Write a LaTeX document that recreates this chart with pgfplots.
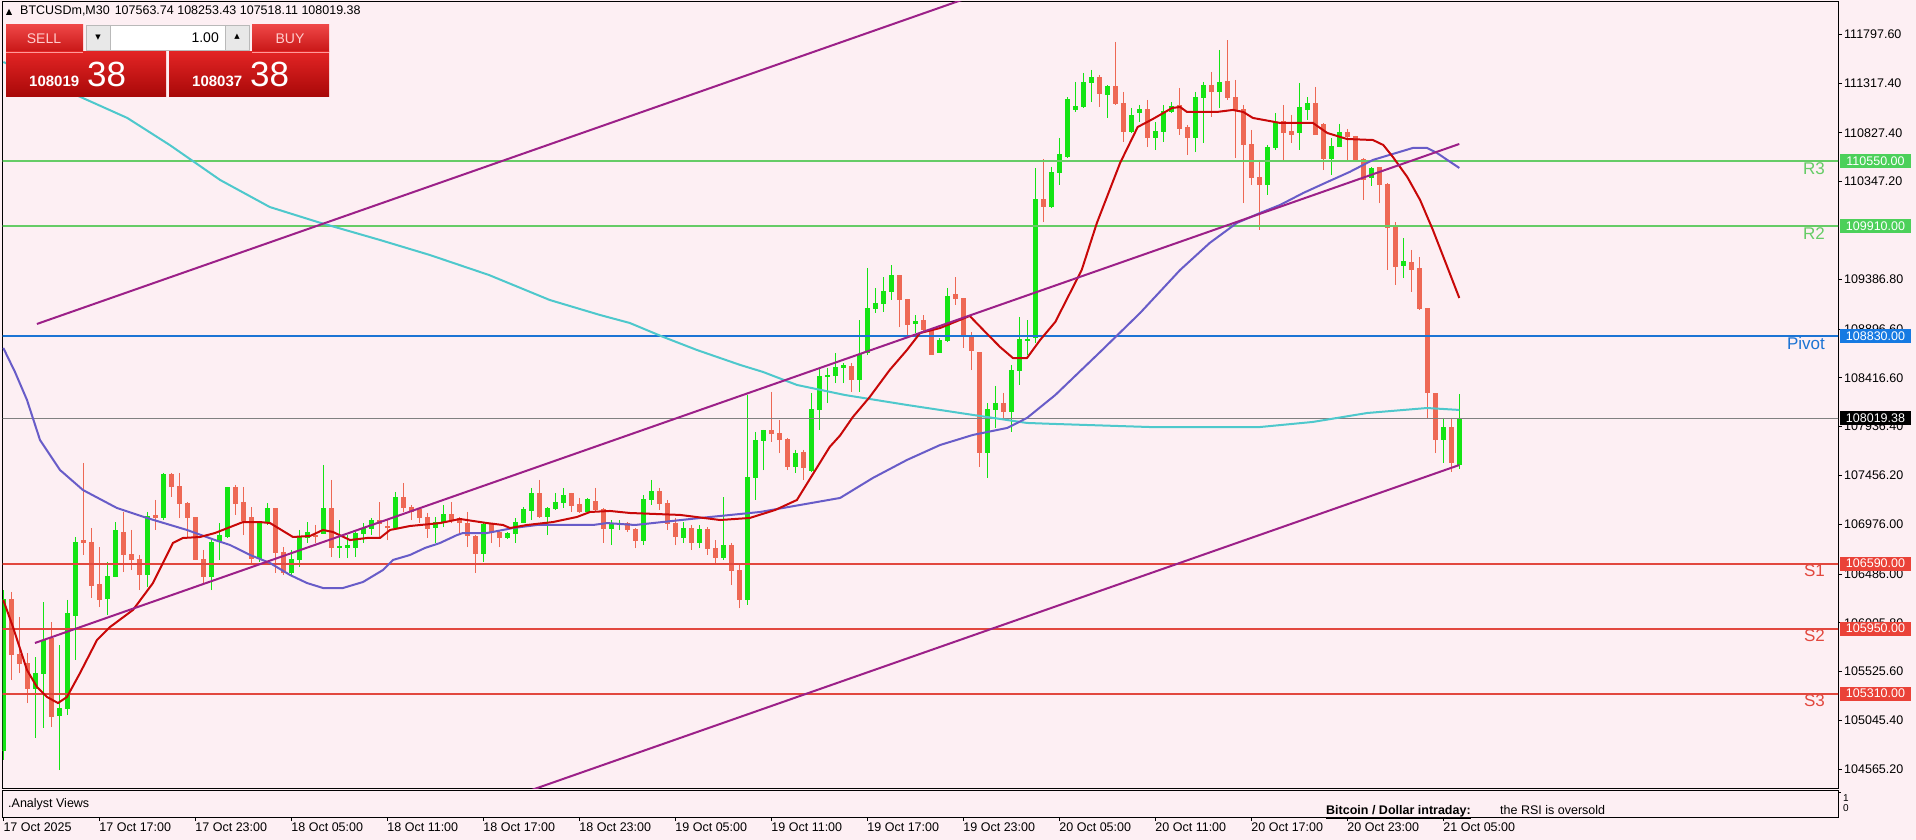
\documentclass[border=0pt]{standalone}
\usepackage{fontspec}
\setmainfont{Liberation Sans}
\newfontfamily\dejavu{DejaVu Sans}
\usepackage{pgfplots}
\usepackage{pgfplotstable}
\pgfplotsset{compat=1.18}
\usepgfplotslibrary{statistics}

\definecolor{bg}{RGB}{253,239,243}
\definecolor{bull}{RGB}{20,228,20}
\definecolor{bear}{RGB}{238,104,84}
\definecolor{maRed}{RGB}{200,8,8}
\definecolor{maBlue}{RGB}{104,92,200}
\definecolor{maCyan}{RGB}{78,200,204}
\definecolor{chan}{RGB}{156,32,136}
\definecolor{resG}{RGB}{102,204,102}
\definecolor{pivB}{RGB}{28,116,212}
\definecolor{supR}{RGB}{226,72,62}
\definecolor{tagG}{RGB}{76,208,90}
\definecolor{tagR}{RGB}{234,66,56}
\definecolor{tagB}{RGB}{22,122,226}
\definecolor{btnTop}{RGB}{238,70,70}
\definecolor{btnBot}{RGB}{200,22,22}
\definecolor{boxTop}{RGB}{226,36,36}
\definecolor{boxBot}{RGB}{168,8,8}

\newcommand\px{\fontsize{12.5}{14}\selectfont}

% BTCUSDm M30 candles: bar index, open, high, low, close
\pgfplotstableread{
i O H L C
0 104755 106329 104657 106231
1 106231 106310 105444 105690
2 105690 106064 105512 105611
3 105611 105709 105217 105365
4 105365 105670 104873 105512
5 105512 106211 104972 105837
6 105857 106014 104981 105080
7 105090 105788 104558 105168
8 105168 106231 105099 106103
9 106083 106851 105641 106801
10 106821 107579 106674 106801
11 106801 106939 106251 106378
12 106388 106752 106162 106231
13 106241 106605 106083 106467
14 106467 106998 106457 106910
15 106900 107097 106506 106674
16 106674 106920 106526 106625
17 106625 106674 106329 106477
18 106477 107097 106359 107048
19 107058 107215 106920 107038
20 107038 107481 107018 107461
21 107461 107481 107245 107343
22 107343 107481 107038 107185
23 107176 107195 106851 107038
24 107038 107038 106625 106634
25 106625 106723 106398 106467
26 106467 106841 106329 106792
27 106811 106988 106625 106870
28 106851 107343 106841 107333
29 107333 107363 107068 107185
30 107195 107343 106870 107018
31 107038 107146 106575 106644
32 106644 106998 106605 106988
33 106998 107185 106969 107136
34 107136 107136 106497 106703
35 106703 106752 106477 106506
36 106497 106723 106477 106625
37 106625 106920 106556 106841
38 106841 106998 106792 106900
39 106870 106969 106792 106851
40 106890 107560 106890 107136
41 107136 107412 106654 106743
42 106752 107018 106644 106762
43 106752 106870 106644 106772
44 106752 106900 106654 106890
45 106890 106988 106792 106939
46 106939 107038 106870 107018
47 107018 107195 106841 106988
48 106959 107018 106821 106949
49 106949 107294 106920 107244
50 107244 107383 107097 107146
51 107146 107166 107018 107097
52 107117 107136 106988 107038
53 107038 107087 106841 106939
54 106949 107048 106792 106998
55 106998 107166 106949 107068
56 107068 107195 106988 107018
57 107028 107048 106890 106998
58 106988 107097 106752 106870
59 106851 106870 106497 106693
60 106693 106988 106605 106969
61 106969 106988 106792 106900
62 106900 106920 106752 106841
63 106841 106900 106831 106890
64 106890 107038 106792 106998
65 106998 107146 106988 107117
66 107107 107333 107018 107274
67 107274 107412 107038 107048
68 107048 107146 106870 107136
69 107136 107284 107117 107195
70 107195 107333 107136 107264
71 107274 107284 107097 107156
72 107166 107235 107087 107097
73 107097 107235 107087 107215
74 107205 107333 107097 107117
75 107117 107136 106792 106939
76 106939 107018 106772 106988
77 106978 107018 106920 106988
78 106988 106998 106900 106920
79 106920 106939 106742 106821
80 106821 107264 106772 107215
81 107215 107412 107166 107294
82 107294 107333 107117 107185
83 107185 107215 106920 106988
84 106988 107038 106772 106851
85 106841 106998 106792 106939
86 106939 106969 106723 106792
87 106792 106969 106742 106920
88 106920 106949 106674 106742
89 106742 106821 106595 106654
90 106654 107244 106625 106772
91 106772 106792 106378 106526
92 106526 106575 106152 106231
93 106231 108248 106182 107432
94 107432 107884 107215 107805
95 107805 107904 107510 107894
96 107894 108278 107786 107874
97 107874 108002 107677 107815
98 107815 107825 107510 107540
99 107540 107707 107481 107677
100 107687 107707 107412 107530
101 107510 108268 107491 108110
102 108101 108524 107904 108426
103 108426 108514 108169 108435
104 108435 108662 108366 108514
105 108514 108563 108366 108534
106 108524 108563 108278 108396
107 108396 108986 108278 108642
108 108662 109498 108642 109095
109 109095 109301 109055 109144
110 109144 109409 109065 109262
111 109262 109527 109183 109419
112 109419 109429 108917 109183
113 109183 109193 108839 108937
114 108947 109035 108858 108976
115 108986 109035 108858 108888
116 108888 108907 108642 108651
117 108662 108809 108662 108789
118 108789 109301 108770 109222
119 109232 109409 109134 109193
120 109193 109203 108711 108839
121 108819 108868 108494 108681
122 108671 108671 107540 107687
123 107687 108169 107432 108101
124 108101 108337 107924 108160
125 108160 108268 108002 108081
126 108081 108544 107884 108494
127 108494 109016 108347 108799
128 108789 108986 108642 108799
129 108809 110482 108760 110176
130 110176 110570 109950 110098
131 110098 110492 110088 110442
132 110442 110777 110315 110610
133 110590 111180 110580 111151
134 111053 111328 111033 111082
135 111082 111417 111072 111318
136 111318 111446 111131 111377
137 111377 111397 111082 111210
138 111200 111298 110974 111279
139 111279 111722 111102 111121
140 111121 111230 110738 110836
141 110836 111072 110826 110994
142 111023 111102 110935 111062
143 111062 111151 110688 110777
144 110777 110935 110659 110836
145 110836 111102 110738 111033
146 111033 111131 111023 111082
147 111092 111269 110807 110875
148 110885 110905 110610 110777
149 110777 111230 110639 111180
150 111180 111328 110728 111298
151 111289 111427 110984 111230
152 111230 111643 111072 111318
153 111328 111741 111151 111171
154 111180 111348 110580 111053
155 111053 111102 110137 110708
156 110708 110856 110315 110393
157 110393 110561 109872 110315
158 110315 110708 110216 110679
159 110679 111023 110659 110934
160 110944 111102 110561 110826
161 110836 111004 110728 110816
162 110826 111318 110659 111072
163 111053 111180 110954 111121
164 111121 111279 110807 110807
165 110905 110925 110462 110580
166 110580 110777 110413 110698
167 110698 110915 110688 110826
168 110826 110866 110561 110787
169 110787 110797 110561 110561
170 110561 110580 110167 110364
171 110393 110492 110305 110472
172 110482 110492 110137 110315
173 110315 110334 109478 109892
174 109892 109950 109331 109508
175 109527 109793 109399 109557
176 109547 109675 109262 109478
177 109488 109606 109085 109095
178 109095 109095 108022 108268
179 108258 108258 107677 107815
180 107815 108022 107579 107924
181 107924 108022 107491 107579
182 107564 108253 107518 108019
}\candles

\begin{document}
\begin{tikzpicture}
\fill[bg] (0,0) rectangle (1916pt,-840pt);

% main price panel
\begin{axis}[
    at={(2.7pt,-2pt)}, anchor=north west,
    scale only axis, width=1835.3pt, height=786pt,
    xmin=-0.075, xmax=229.34, ymin=104381, ymax=112115,
    axis background/.style={fill=bg},
    axis line style={line width=1pt},
    boxplot/draw direction=y,
    xtick=\empty,
    ytick pos=right, yticklabel pos=right,
    scaled y ticks=false,
    ytick={104565.2,105045.4,105525.6,106005.8,106486,106976,107456.2,107936.4,108416.6,108896.6,109386.8,110347.2,110827.4,111317.4,111797.6},
    yticklabels={104565.20,105045.40,105525.60,106005.80,106486.00,106976.00,107456.20,107936.40,108416.60,108896.60,109386.80,110347.20,110827.40,111317.40,111797.60},
    tick align=outside, major tick length=4pt,
    ytick style={line width=0.8pt, black},
    yticklabel style={font=\px, inner sep=2pt},
]
% candles
\pgfplotsinvokeforeach{0,...,182}{%
  \pgfplotstablegetelem{#1}{O}\of\candles \let\cO\pgfplotsretval
  \pgfplotstablegetelem{#1}{H}\of\candles \let\cH\pgfplotsretval
  \pgfplotstablegetelem{#1}{L}\of\candles \let\cL\pgfplotsretval
  \pgfplotstablegetelem{#1}{C}\of\candles \let\cC\pgfplotsretval
  \ifnum\cC<\cO\relax \def\cc{bear}\else \def\cc{bull}\fi
  \edef\doit{\noexpand\addplot[line width=1pt, draw=\cc, fill=\cc,
    boxplot prepared={draw position=#1, lower whisker=\cL, lower quartile=\cO,
      median=\cO, upper quartile=\cC, upper whisker=\cH,
      box extend=0.5, whisker extend=0}] coordinates {};}%
  \doit
}

% pivot levels
\addplot[resG, line width=2pt] coordinates {(-1,110550) (230,110550)};
\addplot[resG, line width=2pt] coordinates {(-1,109910) (230,109910)};
\addplot[pivB, line width=2pt] coordinates {(-1,108830) (230,108830)};
\addplot[supR, line width=2pt] coordinates {(-1,106590) (230,106590)};
\addplot[supR, line width=2pt] coordinates {(-1,105950) (230,105950)};
\addplot[supR, line width=2pt] coordinates {(-1,105310) (230,105310)};
\addplot[gray, line width=0.8pt] coordinates {(-1,108019.38) (230,108019.38)};

% slow MA
\addplot[maCyan, line width=2pt] coordinates {
(0,111525) (10.2,111161) (15.5,110974) (20.8,110708) (27.1,110364) (33.3,110098)
(39.3,109950) (47.1,109773) (53.3,109626) (60.7,109429) (68.3,109183) (74.6,109035)
(78.3,108957) (82.5,108819) (86.7,108691) (92.1,108544) (94.96,108475) (99.2,108347)
(105.2,108248) (112.96,108150) (121.2,108052) (127.96,107973) (131.5,107963)
(143.3,107933) (157.1,107933) (163.7,107983) (170.5,108071) (177.96,108120) (182,108101)};

% medium MA
\addplot[maBlue, line width=2pt] coordinates {
(0,108711) (1.46,108475) (2.96,108199) (4.59,107805) (7.09,107510) (9.96,107313)
(14.21,107136) (17.96,107038) (22.96,106920) (26.46,106821) (28.34,106772) (30.84,106674)
(33.34,106595) (35.84,106477) (37.96,106398) (39.96,106349) (42.46,106349) (44.96,106408)
(47.46,106526) (48.71,106625) (50.84,106674) (52.71,106743) (54.59,106792) (56.71,106870)
(57.46,106890) (60.46,106890) (63.71,106939) (66.71,106969) (73.71,106969) (75.46,106988)
(78.96,106969) (87.1,107038) (94.6,107097) (99.6,107166) (104.6,107235) (108.7,107432)
(112.96,107609) (117.1,107756) (121.2,107855) (125.5,107924) (127.96,108022) (131.5,108248)
(137.1,108671) (142.1,109055) (147.1,109478) (150.8,109744) (154.2,109941) (157.1,110039)
(159.6,110118) (162.5,110236) (165.5,110344) (168.3,110443) (171.2,110561) (173.7,110620)
(176.2,110679) (177.96,110679) (179.2,110630) (180.5,110561) (182,110482)};

% fast MA
\addplot[maRed, line width=2pt] coordinates {
(0,106231) (1.21,105965) (2.96,105542) (4.21,105375) (5.46,105277) (6.84,105217)
(7.96,105277) (9.59,105512) (11.71,105837) (13.34,105965) (16.21,106133) (18.71,106398)
(19.96,106595) (21.21,106792) (22.46,106841) (24.59,106851) (26.46,106890) (29.96,106998)
(32.09,106998) (33.34,106988) (36.21,106851) (38.34,106861) (39.96,106920) (41.21,106900)
(43.34,106821) (45.46,106841) (47.09,106841) (48.34,106920) (50.84,106959) (54.59,106988)
(57.09,107028) (60.46,106988) (62.46,106969) (63.34,106939) (65.46,106969) (68.71,106998)
(71.71,107048) (73.34,107097) (75.84,107107) (78.34,107087) (84.6,107068) (89.6,107018)
(93.3,107038) (96.5,107117) (99.2,107215) (103.3,107737) (104.6,107850) (106.2,108032)
(108.3,108228) (110.8,108494) (112.96,108691) (114.6,108858) (117.1,108907) (120.8,109026)
(122.5,108888) (124.6,108720) (126.2,108612) (127.96,108612) (129.6,108789) (131.5,108967)
(134.8,109478) (136.7,109941) (139.6,110531) (141.8,110885) (143.7,110964) (146.1,111072)
(147.1,111082) (147.96,111033) (151.7,111033) (153.7,111053) (155.0,111033) (156.2,110974)
(159.6,110925) (163.7,110925) (165.5,110826) (167.96,110767) (171.2,110757) (172.5,110708)
(173.7,110590) (175.5,110393) (177.1,110167) (178.7,109872) (180.5,109508) (182,109203)};

% channel
\addplot[chan, line width=2pt] coordinates {(4.2,108947) (182,113850)};
\addplot[chan, line width=2pt] coordinates {(3.96,105808) (182,110718)};
\addplot[chan, line width=2pt] coordinates {(60,104195) (182,107559)};
\end{axis}

% indicator sub-window with the time axis
\begin{axis}[
    at={(2.7pt,-790pt)}, anchor=north west,
    scale only axis, width=1835.3pt, height=27pt,
    xmin=-0.075, xmax=229.34, ymin=0, ymax=1,
    axis background/.style={fill=bg},
    axis line style={line width=1pt},
    ytick=\empty,
    xtick={0,12,...,180},
    xticklabels={17 Oct 2025,17 Oct 17:00,17 Oct 23:00,18 Oct 05:00,18 Oct 11:00,18 Oct 17:00,18 Oct 23:00,19 Oct 05:00,19 Oct 11:00,19 Oct 17:00,19 Oct 23:00,20 Oct 05:00,20 Oct 11:00,20 Oct 17:00,20 Oct 23:00,21 Oct 05:00},
    xtick pos=bottom, tick align=outside, major tick length=4pt,
    xtick style={line width=0.8pt, black},
    xticklabel style={font=\px, anchor=north west, inner sep=0pt, yshift=-2pt},
]
\end{axis}

\begin{scope}[x=1pt,y=-1pt]
% header
\fill[black] (6,15) -- (12,15) -- (9,9) -- cycle;
\node[anchor=base west, inner sep=0, font=\px] at (20,15)
  {BTCUSDm,M30\hspace{5pt}107563.74 108253.43 107518.11 108019.38};

% one-click trading panel
\shade[top color=btnTop, bottom color=btnBot] (6,25) rectangle (83,52);
\shade[top color=btnTop, bottom color=btnBot] (252,25) rectangle (329,52);
\fill[gray!18] (86,25) rectangle (110,50);
\fill[white] (110,25) rectangle (225,50);
\fill[gray!18] (225,25) rectangle (249,50);
\draw[gray!55, line width=0.6pt] (86,25) rectangle (249,50);
\draw[gray!55, line width=0.6pt] (110,25) -- (110,50) (225,25) -- (225,50);
\node[font=\dejavu\fontsize{7}{8}\selectfont] at (98,38) {▼};
\node[font=\dejavu\fontsize{7}{8}\selectfont] at (237,37) {▲};
\node[anchor=east, inner sep=0, font=\fontsize{14}{16}\selectfont] at (219,38) {1.00};
\node[text={rgb,255:red,255;green,205;blue,205}, font=\fontsize{14}{16}\selectfont] at (44,39) {SELL};
\node[text={rgb,255:red,255;green,205;blue,205}, font=\fontsize{14}{16}\selectfont] at (290,39) {BUY};
\shade[top color=boxTop, bottom color=boxBot] (6,52) rectangle (166,97);
\shade[top color=boxTop, bottom color=boxBot] (169,52) rectangle (329,97);
\draw[red!40!white, line width=0.8pt] (6,52) -- (83,52) (252,52) -- (329,52);
\node[anchor=base west, inner sep=0, text=white, font=\bfseries\fontsize{15}{17}\selectfont] at (29,87) {108019};
\node[anchor=base west, inner sep=0, text=white, font=\fontsize{35}{40}\selectfont] at (87,87) {38};
\node[anchor=base west, inner sep=0, text=white, font=\bfseries\fontsize{15}{17}\selectfont] at (192,87) {108037};
\node[anchor=base west, inner sep=0, text=white, font=\fontsize{35}{40}\selectfont] at (250,87) {38};

% level names
\node[anchor=north east, inner sep=0, text=resG, font=\fontsize{17}{20}\selectfont] at (1825,162) {R3};
\node[anchor=north east, inner sep=0, text=resG, font=\fontsize{17}{20}\selectfont] at (1825,227) {R2};
\node[anchor=north east, inner sep=0, text=pivB, font=\fontsize{17}{20}\selectfont] at (1825,337) {Pivot};
\node[anchor=north east, inner sep=0, text=supR, font=\fontsize{17}{20}\selectfont] at (1825,564.5) {S1};
\node[anchor=north east, inner sep=0, text=supR, font=\fontsize{17}{20}\selectfont] at (1825,629.5) {S2};
\node[anchor=north east, inner sep=0, text=supR, font=\fontsize{17}{20}\selectfont] at (1825,694.5) {S3};

% price tags on the scale
\fill[tagG] (1840,154.1) rectangle (1911,168.1);
\node[text=white, inner sep=0, font=\px] at (1875.5,161.1) {110550.00};
\fill[tagG] (1840,219.1) rectangle (1911,233.1);
\node[text=white, inner sep=0, font=\px] at (1875.5,226.1) {109910.00};
\fill[tagB] (1840,328.9) rectangle (1911,342.9);
\node[text=white, inner sep=0, font=\px] at (1875.5,335.9) {108830.00};
\fill[black] (1840,411.3) rectangle (1911,425.3);
\node[text=white, inner sep=0, font=\px] at (1875.5,418.3) {108019.38};
\fill[tagR] (1840,556.5) rectangle (1911,570.5);
\node[text=white, inner sep=0, font=\px] at (1875.5,563.5) {106590.00};
\fill[tagR] (1840,621.6) rectangle (1911,635.6);
\node[text=white, inner sep=0, font=\px] at (1875.5,628.6) {105950.00};
\fill[tagR] (1840,686.6) rectangle (1911,700.6);
\node[text=white, inner sep=0, font=\px] at (1875.5,693.6) {105310.00};

% sub-window texts
\node[anchor=base west, inner sep=0, font=\px] at (8,807) {.Analyst Views};
\node[anchor=base west, inner sep=0, font=\bfseries\px] at (1326,814) {\underline{Bitcoin / Dollar intraday:}};
\node[anchor=base west, inner sep=0, font=\px] at (1500,814) {the RSI is oversold};
\draw[line width=0.8pt] (1838,792) -- (1841,792);
\node[anchor=west, inner sep=0, font=\fontsize{10}{11}\selectfont] at (1843,798) {1};
\node[anchor=west, inner sep=0, font=\fontsize{10}{11}\selectfont] at (1843,808) {0};
\end{scope}

\pgfresetboundingbox
\path (0,0) rectangle (1916pt,-840pt);
\end{tikzpicture}
\end{document}
